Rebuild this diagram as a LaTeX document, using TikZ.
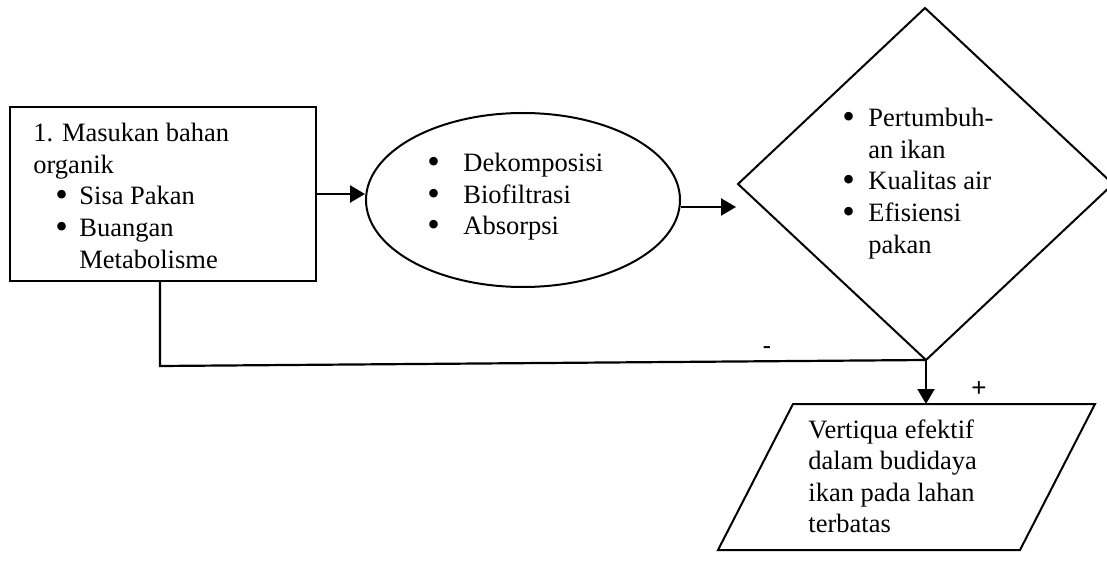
\documentclass[tikz,border=0pt]{standalone}
\usepackage{fontspec}
\setmainfont{Liberation Serif}
\newfontfamily\signfont{Liberation Sans}
\usetikzlibrary{arrows.meta,shapes.geometric}
\newcommand\bulx[2]{\makebox[#1][l]{\hspace{#2}\raisebox{-0.06em}{\scalebox{1.35}{\textbullet}}}}
\tikzset{
  shapeline/.style={draw=black, line width=1pt},
  conn/.style={draw=black, line width=1.1pt},
  arr/.style={conn, -{Triangle[length=7.5pt,width=8.5pt]}},
  txt/.style={anchor=base west, inner sep=0pt, font=\fontsize{13.25pt}{15.75pt}\selectfont},
  sign/.style={inner sep=0pt, font=\signfont\fontsize{13pt}{15pt}\selectfont}
}
\begin{document}
\begin{tikzpicture}[x=0.5pt,y=-0.5pt]
\useasboundingbox (0,0) rectangle (1107,561);
% shapes
\node[shapeline, rectangle, inner sep=0pt, minimum width=153pt, minimum height=87pt] (box) at (163,194) {};
\node[shapeline, ellipse, inner sep=0pt, minimum width=157pt, minimum height=87pt] (ell) at (523,200) {};
\coordinate (dT) at (925,8);
\coordinate (dL) at (738,184);
\coordinate (dB) at (926,360);
\coordinate (dR) at (1113,184);
\draw[shapeline] (dT) -- (dR) -- (dB) -- (dL) -- cycle;
\coordinate (pTL) at (793,404);
\coordinate (pTR) at (1095,404);
\coordinate (pBR) at (1020,550);
\coordinate (pBL) at (718,550);
\draw[shapeline] (pTL) -- (pTR) -- (pBR) -- (pBL) -- cycle;
% texts
\node[txt] (tbox) at (33,142) {\begin{tabular}[t]{@{}l@{}}
1. Masukan bahan\\
organik\\
\bulx{23pt}{11pt}Sisa Pakan\\
\bulx{23pt}{11pt}Buangan\\
\hspace{23pt}Metabolisme
\end{tabular}};
\node[txt] (tell) at (427,172) {\begin{tabular}[t]{@{}l@{}}
\bulx{18pt}{0pt}Dekomposisi\\
\bulx{18pt}{0pt}Biofiltrasi\\
\bulx{18pt}{0pt}Absorpsi
\end{tabular}};
\node[txt] (tdia) at (842,127) {\begin{tabular}[t]{@{}l@{}}
\bulx{13pt}{0pt}Pertumbuh-\\
\hspace{13pt}an ikan\\
\bulx{13pt}{0pt}Kualitas air\\
\bulx{13pt}{0pt}Efisiensi\\
\hspace{13pt}pakan
\end{tabular}};
\node[txt] (tpar) at (808,438) {\begin{tabular}[t]{@{}l@{}}
Vertiqua efektif\\
dalam budidaya\\
ikan pada lahan\\
terbatas
\end{tabular}};
% connectors
\draw[arr] (box.east) -- (box.east -| ell.west);
\coordinate (din) at (736,207);
\draw[arr] ([yshift=-3.5pt]ell.east) -- (din);
\coordinate (fb) at (160,366);
\draw[conn] (box.south -| fb) -- (fb) -- (dB);
\draw[arr] (dB) -- (dB |- pTL);
% signs
\node[sign] (minus) at (767,351) {-};
\node[sign] (plus) at (979,389) {+};
\end{tikzpicture}
\end{document}
